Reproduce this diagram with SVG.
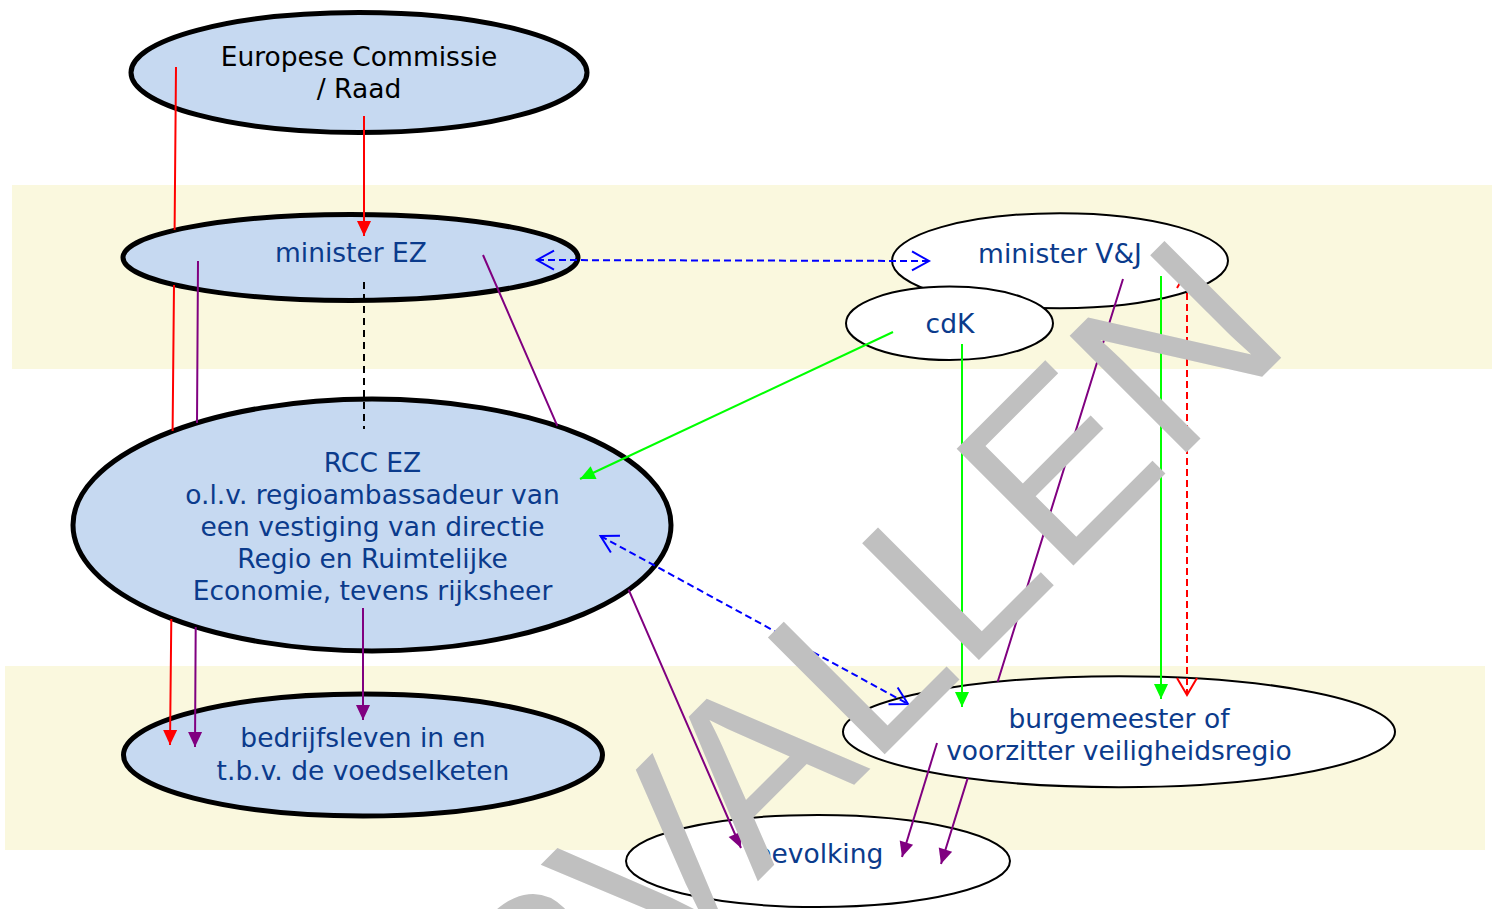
<svg xmlns="http://www.w3.org/2000/svg" width="1497" height="909" viewBox="0 0 1497 909">
<style>
.band{fill:#faf8de}
.thick{fill:#c6d9f1;stroke:#000;stroke-width:5}
.thin{fill:#fff;stroke:#000;stroke-width:2}
.lbl{font-family:"DejaVu Sans",Verdana,sans-serif;font-size:26.5px;fill:#0b3b8c;text-anchor:middle}
.blk{fill:#000}
.c{fill:none;stroke-width:2}
.red{stroke:#ff0000}
.pur{stroke:#800080}
.grn{stroke:#00ff00}
.blu{stroke:#0000ff}
.dash{stroke-dasharray:7 4}
.wm{font-family:"Liberation Sans",Arial,sans-serif;font-size:240px;fill:#c0c0c0}
</style>
<defs>
<marker id="aRed" markerUnits="userSpaceOnUse" markerWidth="16" markerHeight="16" refX="15" refY="7" orient="auto" overflow="visible"><path d="M0,0 L15,7 L0,14 z" fill="#ff0000"/></marker>
<marker id="aPur" markerUnits="userSpaceOnUse" markerWidth="16" markerHeight="16" refX="15" refY="7" orient="auto" overflow="visible"><path d="M0,0 L15,7 L0,14 z" fill="#800080"/></marker>
<marker id="aGrn" markerUnits="userSpaceOnUse" markerWidth="16" markerHeight="16" refX="15" refY="7" orient="auto" overflow="visible"><path d="M0,0 L15,7 L0,14 z" fill="#00ff00"/></marker>
<marker id="oBlu" markerUnits="userSpaceOnUse" markerWidth="20" markerHeight="21" refX="17" refY="9.5" orient="auto-start-reverse" overflow="visible"><path d="M0,0 L17,9.5 L0,19" fill="none" stroke="#0000ff" stroke-width="2"/></marker>
<marker id="oRed" markerUnits="userSpaceOnUse" markerWidth="20" markerHeight="21" refX="17" refY="10" orient="auto-start-reverse" overflow="visible"><path d="M0,0 L17,10 L0,20" fill="none" stroke="#ff0000" stroke-width="2"/></marker>
</defs>
<rect x="0" y="0" width="1497" height="909" fill="#fff"/>
<rect class="band" x="12" y="185" width="1480" height="184"/>
<rect class="band" x="5" y="666" width="1480" height="184"/>

<g id="nodes">
<g id="europese-commissie">
<ellipse class="thick" cx="359" cy="72.5" rx="228" ry="60"/>
<text class="lbl blk" x="359" y="66">Europese Commissie</text>
<text class="lbl blk" x="359" y="98">/ Raad</text>
</g>
<g id="minister-ez">
<ellipse class="thick" cx="350.5" cy="257.5" rx="227.5" ry="43"/>
<text class="lbl" x="351" y="262">minister EZ</text>
</g>
<g id="minister-vj">
<ellipse class="thin" cx="1060" cy="260.7" rx="168" ry="47.5"/>
<text class="lbl" x="1060" y="263">minister V&amp;J</text>
</g>
<g id="cdk">
<ellipse class="thin" cx="949.5" cy="323.3" rx="103.5" ry="36.7"/>
<text class="lbl" x="950" y="333">cdK</text>
</g>
<g id="rcc-ez">
<ellipse class="thick" cx="372" cy="525" rx="299" ry="126"/>
<text class="lbl" x="372.5" y="472">RCC EZ</text>
<text class="lbl" x="372.5" y="504">o.l.v. regioambassadeur van</text>
<text class="lbl" x="372.5" y="536">een vestiging van directie</text>
<text class="lbl" x="372.5" y="568">Regio en Ruimtelijke</text>
<text class="lbl" x="372.5" y="600">Economie, tevens rijksheer</text>
</g>
<g id="bedrijfsleven">
<ellipse class="thick" cx="363" cy="755" rx="239.5" ry="61"/>
<text class="lbl" x="363" y="747">bedrijfsleven in en</text>
<text class="lbl" x="363" y="780">t.b.v. de voedselketen</text>
</g>
<g id="burgemeester">
<ellipse class="thin" cx="1119" cy="731.7" rx="276" ry="55.5"/>
<text class="lbl" x="1119" y="728">burgemeester of</text>
<text class="lbl" x="1119" y="760">voorzitter veiligheidsregio</text>
</g>
<g id="bevolking">
<ellipse class="thin" cx="818" cy="861" rx="192" ry="46"/>
<text class="lbl" x="819" y="863">bevolking</text>
</g>
</g>

<g id="connectors">
<path class="c red" d="M364,116 L364,236" marker-end="url(#aRed)"/>
<path class="c red" d="M176,67 L174.6,230 M174,285 L172.6,431 M171.3,619 L170,745" marker-end="url(#aRed)"/>
<path class="c pur" d="M198,261 L197,423 M195.7,627 L195,747" marker-end="url(#aPur)"/>
<path class="c pur" d="M363,608 L363,720" marker-end="url(#aPur)"/>
<path class="c pur" d="M483,255 L557.3,425.8 M628.6,589.7 L741,848" marker-end="url(#aPur)"/>
<path class="c pur" d="M1123,279 L997.7,681.8 M967.7,778.1 L941,864" marker-end="url(#aPur)"/>
<path class="c pur" d="M937,743 L902,857" marker-end="url(#aPur)"/>
<path class="c" stroke="#000" stroke-dasharray="7 5" d="M364,282 L364,429"/>
<path class="c blu dash" d="M537,260 L929,261" marker-start="url(#oBlu)" marker-end="url(#oBlu)"/>
<path class="c blu dash" d="M600.5,536 L908,704" marker-start="url(#oBlu)" marker-end="url(#oBlu)"/>
<path class="c grn" d="M893,332 L580,479" marker-end="url(#aGrn)"/>
<path class="c grn" d="M962,344 L962,707" marker-end="url(#aGrn)"/>
<path class="c grn" d="M1161,276 L1161,699" marker-end="url(#aGrn)"/>
<path class="c red dash" d="M1187,271 L1187,695" marker-start="url(#oRed)" marker-end="url(#oRed)"/>
</g>

<g id="watermark">
<text class="wm" x="311" y="1328" transform="rotate(-45 311 1328)">VERVALLEN</text>
</g>
</svg>
